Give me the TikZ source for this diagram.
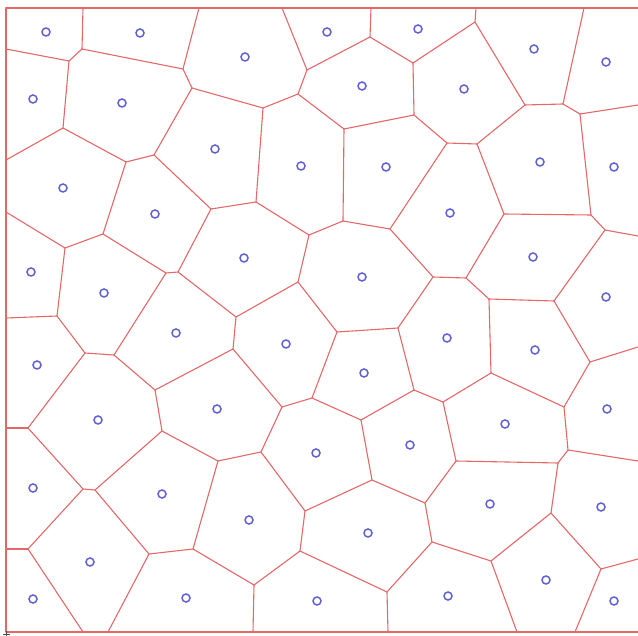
\documentclass[tikz,border=0pt]{standalone}
\usepackage{tikz}
\definecolor{edgered}{RGB}{228,104,104}
\definecolor{siteblue}{RGB}{96,96,212}
\tikzset{
  vedge/.style={draw=edgered, line width=1.1pt, line cap=round, line join=round},
  site/.style={circle, draw=siteblue, line width=1.5pt, inner sep=0pt, minimum size=8pt},
}
\begin{document}
\begin{tikzpicture}[x=1pt,y=-1pt]
\useasboundingbox (0,0) rectangle (638,636);
% frame corners and border points
\coordinate (TL) at (6,8); \coordinate (TR) at (638,8);
\coordinate (BL) at (6,632); \coordinate (BR) at (638,632);
\coordinate (T1) at (83,8); \coordinate (T2) at (199,8); \coordinate (T3) at (282,8);
\coordinate (T4) at (371,8); \coordinate (T5) at (476,8); \coordinate (T6) at (584,8);
\coordinate (L1) at (6,49); \coordinate (L2) at (6,160); \coordinate (L3) at (6,212);
\coordinate (L4) at (6,318); \coordinate (L5) at (6,428); \coordinate (L6) at (6,549);
\coordinate (Q1) at (83,632); \coordinate (Q2) at (108,632); \coordinate (Q3) at (253,632);
\coordinate (Q4) at (388,632); \coordinate (Q5) at (517,632); \coordinate (Q6) at (575,632);
\coordinate (R1) at (638,105); \coordinate (R2) at (638,236); \coordinate (R3) at (638,347);
\coordinate (R4) at (638,461); \coordinate (R5) at (638,559);
% vertices
\coordinate (A0) at (69,61); \coordinate (A1) at (82,49); \coordinate (A2) at (183,69);
\coordinate (A3) at (192,88); \coordinate (A4) at (154,155); \coordinate (A5) at (63,128);
\coordinate (A6) at (126,162); \coordinate (A7) at (211,209); \coordinate (A8) at (103,234);
\coordinate (A9) at (65,248); \coordinate (A10) at (57,316); \coordinate (A11) at (85,353);
\coordinate (A12) at (114,355); \coordinate (A13) at (166,273); \coordinate (A14) at (178,272);
\coordinate (A15) at (155,390); \coordinate (A16) at (28,428); \coordinate (A17) at (83,489);
\coordinate (A18) at (95,490); \coordinate (A19) at (162,431); \coordinate (A20) at (218,461);
\coordinate (A21) at (193,549); \coordinate (A22) at (149,554); \coordinate (A23) at (28,549);
\coordinate (B1) at (261,452); \coordinate (B2) at (305,511); \coordinate (B3) at (300,551);
\coordinate (B4) at (254,585); \coordinate (B5) at (387,592); \coordinate (B6) at (372,480);
\coordinate (B7) at (361,420); \coordinate (B8) at (425,503);
\coordinate (C1) at (456,461); \coordinate (C2) at (558,463); \coordinate (C3) at (568,450);
\coordinate (C4) at (551,513); \coordinate (C5) at (601,569); \coordinate (C6) at (491,561);
\coordinate (C7) at (432,542);
\coordinate (D1) at (309,235); \coordinate (D2) at (343,221); \coordinate (D3) at (390,229);
\coordinate (D4) at (298,282); \coordinate (D5) at (236,317); \coordinate (D6) at (233,349);
\coordinate (D7) at (282,407); \coordinate (D8) at (312,398); \coordinate (D9) at (337,332);
\coordinate (D10) at (398,328); \coordinate (D11) at (414,390);
\coordinate (E1) at (433,277); \coordinate (E2) at (466,278); \coordinate (E3) at (504,214);
\coordinate (E4) at (591,215); \coordinate (E5) at (605,230); \coordinate (E6) at (554,301);
\coordinate (E7) at (489,299); \coordinate (E8) at (491,373); \coordinate (E9) at (443,402);
\coordinate (E10) at (564,407); \coordinate (E11) at (590,362);
\coordinate (F1) at (307,70); \coordinate (F2) at (298,94); \coordinate (F3) at (263,108);
\coordinate (F4) at (256,202); \coordinate (F5) at (344,129); \coordinate (F6) at (414,115);
\coordinate (F7) at (413,63); \coordinate (F8) at (370,37);
\coordinate (G1) at (475,22); \coordinate (G2) at (525,105); \coordinate (G3) at (563,104);
\coordinate (G4) at (580,114); \coordinate (G5) at (477,144); \coordinate (G6) at (447,143);
% frame
\draw[vedge] (TR) -- (TL) -- (BL) -- (BR);
% edges
\foreach \a/\b in {T1/A1, A1/A0, L1/A0, A1/A2, T2/A2, A2/A3, A3/F3, A3/A4, A0/A5, A5/L2,
  A5/A6, A6/A4, A4/A7, A6/A8, A8/A9, A9/L3, A9/A10, A10/L4, A10/A11, A11/A12, A8/A13,
  A13/A14, A13/A12, A14/A7, A14/D5, A12/A15, A15/D6, A15/A19, A11/A16, A16/L5, A16/A17,
  A17/A18, A18/A19, A19/A20, A20/A21, A21/A22, A22/A18, A22/Q2, A21/B4, A17/A23, A23/L6,
  A23/Q1, A20/B1, B1/D7, B1/B2, B2/B3, B3/B4, B4/Q3, B3/B5, B5/Q4, B5/C7, B2/B6, B6/B7,
  B6/B8, B8/C1, B8/C7, C1/E9, C1/C2, C2/C3, C3/E10, C3/R4, C2/C4, C4/C5, C5/R5, C5/Q6,
  C4/C6, C6/Q5, C6/C7, T3/F1, F1/F2, F2/F3, F3/F4, F4/A7, F4/D1, F2/F5, F5/D2, F5/F6,
  F6/F7, F7/F8, F8/T4, F8/F1, F7/G1, G1/T5, G1/G2, G2/G3, G3/T6, G3/G4, G4/R1, G4/E4,
  G2/G5, G5/G6, G6/F6, G6/D3, G5/E3, D1/D2, D2/D3, D3/E1, D1/D4, D4/D5, D5/D6, D6/D7,
  D7/D8, D8/D9, D9/D4, D9/D10, D10/E1, D10/D11, D11/B7, D11/E9, D8/B7, E1/E2, E2/E3,
  E3/E4, E4/E5, E5/R2, E5/E6, E6/E7, E7/E2, E7/E8, E8/E9, E8/E10, E6/E11, E11/R3, E11/E10}
  \draw[vedge] (\a) -- (\b);
% small axis mark at the corner
\draw[black!70, line width=0.5pt] (3,634) -- (10,634) (6.5,630.5) -- (6.5,636);
% sites
\foreach \n/\x/\y in {1/46/32, 2/140/33, 3/245/57, 4/327/32, 5/418/29, 6/534/49, 7/606/62,
  8/33/99, 9/122/103, 10/362/86, 11/464/89,
  12/63/188, 13/215/149, 14/301/166, 15/386/167, 16/450/213, 17/540/162, 18/614/167,
  19/155/214, 20/244/258, 21/362/277, 22/533/257, 23/606/297,
  24/31/272, 25/104/293, 26/176/333, 27/286/344, 28/447/338, 29/535/350,
  30/37/365, 31/364/373, 32/98/420, 33/217/409, 34/316/453, 35/410/445, 36/505/424, 37/607/409,
  38/33/488, 39/162/494, 40/249/520, 41/368/533, 42/490/504, 43/601/507,
  44/90/562, 45/186/598, 46/317/601, 47/448/596, 48/546/580, 49/614/601,
  50/33/599}
  \node[site] (s\n) at (\x,\y) {};
\end{tikzpicture}
\end{document}
